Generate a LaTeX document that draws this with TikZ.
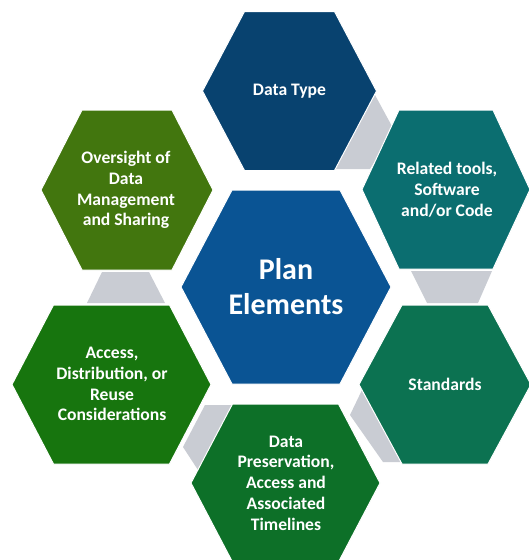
\documentclass[tikz,border=0pt]{standalone}
\usepackage{fontspec}
\setmainfont{Carlito}
\definecolor{cDT}{HTML}{08426F}
\definecolor{cCenter}{HTML}{0A5494}
\definecolor{cRT}{HTML}{0B6E70}
\definecolor{cStd}{HTML}{0C7251}
\definecolor{cPres}{HTML}{0D7028}
\definecolor{cAcc}{HTML}{17750E}
\definecolor{cOver}{HTML}{42760E}
\definecolor{cGray}{HTML}{C9CCD3}
\newcommand{\myhexagon}[6]{% x, y, W, T, H, colour
  \fill[#6, draw=white, line width=1pt] (#1-#3,#2) -- (#1-#4,#2-#5) -- (#1+#4,#2-#5)
    -- (#1+#3,#2) -- (#1+#4,#2+#5) -- (#1-#4,#2+#5) -- cycle;}
\tikzset{
  hextext/.style={text=white, align=center, font=\bfseries\fontsize{17.6}{20.8}\selectfont},
  bigtext/.style={text=white, align=center, font=\bfseries\fontsize{30}{35}\selectfont},
  connector/.style={fill=cGray}
}
\begin{document}
\begin{tikzpicture}[x=1pt,y=-1pt]
\fill[white] (0,0) rectangle (528,560);
\useasboundingbox (0,0) rectangle (528,560);
% gray connectors
\fill[connector] (375,95) -- (394,130) -- (370,169) -- (334,169) -- cycle;
\fill[connector] (411,271) -- (492,271) -- (478,303) -- (427,303) -- cycle;
\fill[connector] (102,272) -- (149,272) -- (165,303) -- (87,303) -- cycle;
\fill[connector] (205,405) -- (235,405) -- (198,470) -- (183,447) -- cycle;
\fill[connector] (362,390) -- (350,415) -- (383,462) -- (403,462) -- cycle;
% hexagons
\myhexagon{289.5}{91}{87}{45}{79.5}{cDT}
\myhexagon{446}{189.5}{84}{47}{79.5}{cRT}
\myhexagon{286}{287}{105}{54}{97}{cCenter}
\myhexagon{445}{384.5}{86}{43}{79.5}{cStd}
\myhexagon{285.5}{483}{94.5}{53}{79}{cPres}
\myhexagon{111.5}{384.5}{99.5}{58}{79.5}{cAcc}
\myhexagon{127}{190}{86}{45}{80}{cOver}
% labels
\node[hextext] (dt) at (289.5,91) {Data Type};
\node[hextext] (rt) at (447,190) {Related tools,\\Software\\and/or Code};
\node[bigtext] (pe) at (286,287) {Plan\\Elements};
\node[hextext] (std) at (445,384) {Standards};
\node[hextext] (pres) at (286,483) {Data\\Preservation,\\Access and\\Associated\\Timelines};
\node[hextext] (acc) at (112,384) {Access,\\Distribution, or\\Reuse\\Considerations};
\node[hextext] (over) at (126,190) {Oversight of\\Data\\Management\\and Sharing};
\end{tikzpicture}
\end{document}
